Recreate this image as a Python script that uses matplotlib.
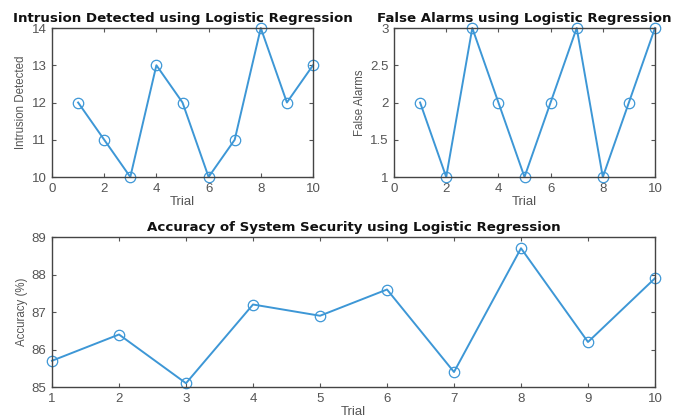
import numpy as np
import matplotlib.pyplot as plt

trial = [1, 2, 3, 4, 5, 6, 7, 8, 9, 10]
intrusions = [12, 11, 10, 13, 12, 10, 11, 14, 12, 13]
false_alarms = [2, 1, 3, 2, 1, 2, 3, 1, 2, 3]
accuracy = [85.7, 86.4, 85.1, 87.2, 86.9, 87.6, 85.4, 88.7, 86.2, 87.9]

plt.rcParams['font.family'] = ['Liberation Sans', 'DejaVu Sans']
blue = '#3d97d6'
grey = '#555555'

fig = plt.figure(figsize=(6.78, 4.15), dpi=100)
W, H = 678, 415

def ax_at(x0, y0, x1, y1):
    return fig.add_axes([x0 / W, 1 - y1 / H, (x1 - x0) / W, (y1 - y0) / H])

def draw(ax, y):
    ax.plot(trial, y, color=blue, lw=1.4, marker='o', mfc='none',
            mec=blue, ms=7.5, mew=0.9, clip_on=False)

ax1 = ax_at(52, 28, 313, 177)
draw(ax1, intrusions)
ax1.set_xlim(0, 10)
ax1.set_ylim(10, 14)
ax1.set_xticks([0, 2, 4, 6, 8, 10])
ax1.set_yticks([10, 11, 12, 13, 14])

ax2 = ax_at(394, 28, 655, 177)
draw(ax2, false_alarms)
ax2.set_xlim(0, 10)
ax2.set_ylim(1, 3)
ax2.set_xticks([0, 2, 4, 6, 8, 10])
ax2.set_yticks([1, 1.5, 2, 2.5, 3])
ax2.set_yticklabels(['1', '1.5', '2', '2.5', '3'])

ax3 = ax_at(52, 237, 655, 387)
draw(ax3, accuracy)
ax3.set_xlim(1, 10)
ax3.set_ylim(85, 89)
ax3.set_xticks(trial)
ax3.set_yticks([85, 86, 87, 88, 89])

for ax, t, yl in [(ax1, 'Intrusion Detected using Logistic Regression', 'Intrusion Detected'),
                  (ax2, 'False Alarms using Logistic Regression', 'False Alarms'),
                  (ax3, 'Accuracy of System Security using Logistic Regression', 'Accuracy (%)')]:
    for s in ax.spines.values():
        s.set_color('#444444')
        s.set_linewidth(1.0)
    ax.tick_params(direction='in', top=True, right=True, length=3,
                   labelsize=9.5, colors=grey, pad=4)
    ax.set_title(t, fontsize=9.6, fontweight='bold', pad=4,
                 family=['DejaVu Sans'], color='#111111')
    ax.set_xlabel('Trial', fontsize=9.5, color=grey, labelpad=1)
    ax.set_ylabel(yl, fontsize=8.3, color=grey, labelpad=3)

fig.savefig('out.png', dpi=100)
